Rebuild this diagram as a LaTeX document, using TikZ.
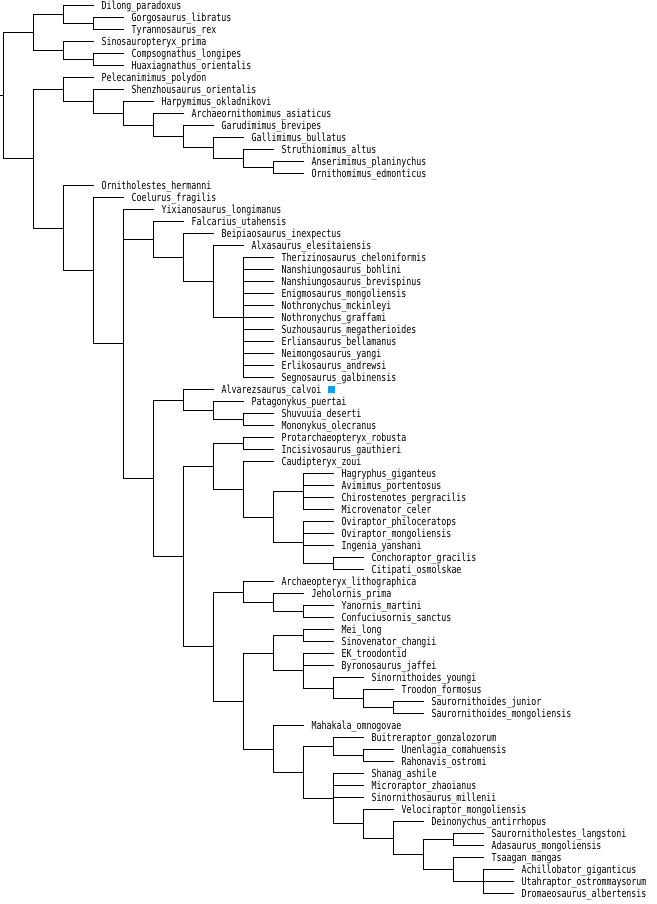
\documentclass[tikz,border=0pt]{standalone}
\usepackage{fontspec}
\usepackage{xcolor}
\usepackage{tikz}
\usetikzlibrary{positioning}
\newfontfamily\treefont[FakeStretch=0.755]{DejaVu Sans Mono}
\definecolor{markblue}{RGB}{16,160,232}

\begin{document}
\begin{tikzpicture}[
    x=1pt, y=-12pt,
    taxon/.style={anchor=west, inner xsep=8pt, inner ysep=0pt, outer sep=0pt, text height=8pt, text depth=0pt, font=\treefont\fontsize{11}{12}\selectfont},
    branch/.style={line width=1pt},
    marker/.style={fill=markblue, minimum size=7pt, inner sep=0pt, outer sep=0pt}
  ]
  \useasboundingbox (0,-0.4583) rectangle (656,74.875);

  % Taxa, one row each
  \node[taxon] (dilong)      at (93.5,0)   {Dilong\_paradoxus};
  \node[taxon] (gorgo)       at (123.5,1)  {Gorgosaurus\_libratus};
  \node[taxon] (tyranno)     at (123.5,2)  {Tyrannosaurus\_rex};
  \node[taxon] (sinosaur)    at (93.5,3)   {Sinosauropteryx\_prima};
  \node[taxon] (compso)      at (123.5,4)  {Compsognathus\_longipes};
  \node[taxon] (huaxia)      at (123.5,5)  {Huaxiagnathus\_orientalis};
  \node[taxon] (pelecan)     at (93.5,6)   {Pelecanimimus\_polydon};
  \node[taxon] (shenzhou)    at (123.5,7)  {Shenzhousaurus\_orientalis};
  \node[taxon] (harpy)       at (153.5,8)  {Harpymimus\_okladnikovi};
  \node[taxon] (archorn)     at (183.5,9)  {Archaeornithomimus\_asiaticus};
  \node[taxon] (garudi)      at (213.5,10) {Garudimimus\_brevipes};
  \node[taxon] (gallimi)     at (243.5,11) {Gallimimus\_bullatus};
  \node[taxon] (struthio)    at (273.5,12) {Struthiomimus\_altus};
  \node[taxon] (anseri)      at (303.5,13) {Anserimimus\_planinychus};
  \node[taxon] (ornmim)      at (303.5,14) {Ornithomimus\_edmonticus};
  \node[taxon] (ornithol)    at (93.5,15)  {Ornitholestes\_hermanni};
  \node[taxon] (coelurus)    at (123.5,16) {Coelurus\_fragilis};
  \node[taxon] (yixian)      at (153.5,17) {Yixianosaurus\_longimanus};
  \node[taxon] (falcarius)   at (183.5,18) {Falcarius\_utahensis};
  \node[taxon] (beipiao)     at (213.5,19) {Beipiaosaurus\_inexpectus};
  \node[taxon] (alxa)        at (243.5,20) {Alxasaurus\_elesitaiensis};
  \node[taxon] (therizino)   at (273.5,21) {Therizinosaurus\_cheloniformis};
  \node[taxon] (nanbohl)     at (273.5,22) {Nanshiungosaurus\_bohlini};
  \node[taxon] (nanbrev)     at (273.5,23) {Nanshiungosaurus\_brevispinus};
  \node[taxon] (enigmo)      at (273.5,24) {Enigmosaurus\_mongoliensis};
  \node[taxon] (nothmck)     at (273.5,25) {Nothronychus\_mckinleyi};
  \node[taxon] (nothgraff)   at (273.5,26) {Nothronychus\_graffami};
  \node[taxon] (suzhou)      at (273.5,27) {Suzhousaurus\_megatherioides};
  \node[taxon] (erlian)      at (273.5,28) {Erliansaurus\_bellamanus};
  \node[taxon] (neimongo)    at (273.5,29) {Neimongosaurus\_yangi};
  \node[taxon] (erliko)      at (273.5,30) {Erlikosaurus\_andrewsi};
  \node[taxon] (segno)       at (273.5,31) {Segnosaurus\_galbinensis};
  \node[taxon] (alvarez)     at (213.5,32) {Alvarezsaurus\_calvoi};
  \node[taxon] (patagon)     at (243.5,33) {Patagonykus\_puertai};
  \node[taxon] (shuvuuia)    at (273.5,34) {Shuvuuia\_deserti};
  \node[taxon] (mononykus)   at (273.5,35) {Mononykus\_olecranus};
  \node[taxon] (protarch)    at (273.5,36) {Protarchaeopteryx\_robusta};
  \node[taxon] (incisivo)    at (273.5,37) {Incisivosaurus\_gauthieri};
  \node[taxon] (caudip)      at (273.5,38) {Caudipteryx\_zoui};
  \node[taxon] (hagryph)     at (333.5,39) {Hagryphus\_giganteus};
  \node[taxon] (avimimus)    at (333.5,40) {Avimimus\_portentosus};
  \node[taxon] (chirost)     at (333.5,41) {Chirostenotes\_pergracilis};
  \node[taxon] (microven)    at (333.5,42) {Microvenator\_celer};
  \node[taxon] (oviphil)     at (333.5,43) {Oviraptor\_philoceratops};
  \node[taxon] (ovimong)     at (333.5,44) {Oviraptor\_mongoliensis};
  \node[taxon] (ingenia)     at (333.5,45) {Ingenia\_yanshani};
  \node[taxon] (conchor)     at (363.5,46) {Conchoraptor\_gracilis};
  \node[taxon] (citipati)    at (363.5,47) {Citipati\_osmolskae};
  \node[taxon] (archaeop)    at (273.5,48) {Archaeopteryx\_lithographica};
  \node[taxon] (jeholor)     at (303.5,49) {Jeholornis\_prima};
  \node[taxon] (yanornis)    at (333.5,50) {Yanornis\_martini};
  \node[taxon] (confuc)      at (333.5,51) {Confuciusornis\_sanctus};
  \node[taxon] (mei)         at (333.5,52) {Mei\_long};
  \node[taxon] (sinoven)     at (333.5,53) {Sinovenator\_changii};
  \node[taxon] (ektroo)      at (333.5,54) {EK\_troodontid};
  \node[taxon] (byrono)      at (333.5,55) {Byronosaurus\_jaffei};
  \node[taxon] (sinornoides) at (363.5,56) {Sinornithoides\_youngi};
  \node[taxon] (troodon)     at (393.5,57) {Troodon\_formosus};
  \node[taxon] (saurjun)     at (423.5,58) {Saurornithoides\_junior};
  \node[taxon] (saurmong)    at (423.5,59) {Saurornithoides\_mongoliensis};
  \node[taxon] (mahakala)    at (303.5,60) {Mahakala\_omnogovae};
  \node[taxon] (buitre)      at (363.5,61) {Buitreraptor\_gonzalozorum};
  \node[taxon] (unenlagia)   at (393.5,62) {Unenlagia\_comahuensis};
  \node[taxon] (rahonavis)   at (393.5,63) {Rahonavis\_ostromi};
  \node[taxon] (shanag)      at (363.5,64) {Shanag\_ashile};
  \node[taxon] (microrap)    at (363.5,65) {Microraptor\_zhaoianus};
  \node[taxon] (sinornsaur)  at (363.5,66) {Sinornithosaurus\_millenii};
  \node[taxon] (velocir)     at (393.5,67) {Velociraptor\_mongoliensis};
  \node[taxon] (deinon)      at (423.5,68) {Deinonychus\_antirrhopus};
  \node[taxon] (saurlest)    at (483.5,69) {Saurornitholestes\_langstoni};
  \node[taxon] (adasaur)     at (483.5,70) {Adasaurus\_mongoliensis};
  \node[taxon] (tsaagan)     at (483.5,71) {Tsaagan\_mangas};
  \node[taxon] (achillo)     at (513.5,72) {Achillobator\_giganticus};
  \node[taxon] (utahrap)     at (513.5,73) {Utahraptor\_ostrommaysorum};
  \node[taxon] (dromaeo)     at (513.5,74) {Dromaeosaurus\_albertensis};

  \node[marker, right=-2pt of alvarez] (alvmark) {};

  % Clades
  \coordinate (tyrannos)  at (93.5,1.5);
  \coordinate (tyrroid)   at (63.5,0.75);
  \coordinate (compsin)   at (93.5,4.5);
  \coordinate (compsid)   at (63.5,3.75);
  \coordinate (upper)     at (33.5,2.25);
  \coordinate (orn8)      at (273.5,13.5);
  \coordinate (orn7)      at (243.5,12.75);
  \coordinate (orn6)      at (213.5,11.875);
  \coordinate (orn5)      at (183.5,10.938);
  \coordinate (orn4)      at (153.5,9.969);
  \coordinate (orn3)      at (123.5,8.984);
  \coordinate (orn2)      at (93.5,7.992);
  \coordinate (orn1)      at (63.5,6.996);
  \coordinate (thzids)    at (243.5,26);
  \coordinate (thz3)      at (213.5,23);
  \coordinate (thz2)      at (183.5,21);
  \coordinate (thz1)      at (153.5,19.5);
  \coordinate (shuvmono)  at (243.5,34.5);
  \coordinate (patnode)   at (213.5,33.75);
  \coordinate (alvnode)   at (183.5,32.875);
  \coordinate (protinc)   at (243.5,36.5);
  \coordinate (caenag)    at (303.5,40.5);
  \coordinate (conchcit)  at (333.5,46.5);
  \coordinate (ovids)     at (303.5,44.75);
  \coordinate (caenovi)   at (273.5,42.625);
  \coordinate (caudnode)  at (243.5,40.313);
  \coordinate (oviroid)   at (213.5,38.406);
  \coordinate (confnode)  at (303.5,50.5);
  \coordinate (jehnode)   at (273.5,49.75);
  \coordinate (avialae)   at (243.5,48.875);
  \coordinate (meinode)   at (303.5,52.5);
  \coordinate (saurnode)  at (393.5,58.5);
  \coordinate (troonode)  at (363.5,57.75);
  \coordinate (sinnode)   at (333.5,56.875);
  \coordinate (eknode)    at (303.5,55.438);
  \coordinate (troodids)  at (273.5,53.969);
  \coordinate (unennode)  at (363.5,62.5);
  \coordinate (buitnode)  at (333.5,61.75);
  \coordinate (saurlnode) at (453.5,69.5);
  \coordinate (dromnode)  at (483.5,73);
  \coordinate (tsanode)   at (453.5,72);
  \coordinate (eudrom)    at (423.5,70.75);
  \coordinate (deinnode)  at (393.5,69.375);
  \coordinate (velnode)   at (363.5,68.188);
  \coordinate (microraps) at (333.5,66.094);
  \coordinate (dromsub)   at (303.5,63.922);
  \coordinate (dromids)   at (273.5,61.961);
  \coordinate (deinonych) at (243.5,57.965);
  \coordinate (paraves)   at (213.5,53.420);
  \coordinate (pennarap)  at (183.5,45.913);
  \coordinate (maniraps)  at (153.5,39.394);
  \coordinate (yixnode)   at (123.5,28.197);
  \coordinate (coelnode)  at (93.5,22.099);
  \coordinate (ornnode)   at (63.5,18.549);
  \coordinate (lower)     at (33.5,12.773);
  \coordinate (root)      at (3.5,7.511);
  \coordinate (stem)      at (0,7.511);

  % Branches
  \draw[branch] (stem) -- (root);
  \draw[branch] (root) |- (upper) (root) |- (lower);
  \draw[branch] (upper) |- (tyrroid) (upper) |- (compsid);
  \draw[branch] (tyrroid) |- (dilong.west) (tyrroid) |- (tyrannos);
  \draw[branch] (tyrannos) |- (gorgo.west) (tyrannos) |- (tyranno.west);
  \draw[branch] (compsid) |- (sinosaur.west) (compsid) |- (compsin);
  \draw[branch] (compsin) |- (compso.west) (compsin) |- (huaxia.west);
  \draw[branch] (lower) |- (orn1) (lower) |- (ornnode);
  \draw[branch] (orn1) |- (pelecan.west) (orn1) |- (orn2);
  \draw[branch] (orn2) |- (shenzhou.west) (orn2) |- (orn3);
  \draw[branch] (orn3) |- (harpy.west) (orn3) |- (orn4);
  \draw[branch] (orn4) |- (archorn.west) (orn4) |- (orn5);
  \draw[branch] (orn5) |- (garudi.west) (orn5) |- (orn6);
  \draw[branch] (orn6) |- (gallimi.west) (orn6) |- (orn7);
  \draw[branch] (orn7) |- (struthio.west) (orn7) |- (orn8);
  \draw[branch] (orn8) |- (anseri.west) (orn8) |- (ornmim.west);
  \draw[branch] (ornnode) |- (ornithol.west) (ornnode) |- (coelnode);
  \draw[branch] (coelnode) |- (coelurus.west) (coelnode) |- (yixnode);
  \draw[branch] (yixnode) |- (yixian.west) (yixnode) |- (thz1) (yixnode) |- (maniraps);
  \draw[branch] (thz1) |- (falcarius.west) (thz1) |- (thz2);
  \draw[branch] (thz2) |- (beipiao.west) (thz2) |- (thz3);
  \draw[branch] (thz3) |- (alxa.west) (thz3) |- (thzids);
  \draw[branch] (thzids) |- (therizino.west) (thzids) |- (nanbohl.west) (thzids) |- (nanbrev.west)
    (thzids) |- (enigmo.west) (thzids) |- (nothmck.west) (thzids) |- (nothgraff.west)
    (thzids) |- (suzhou.west) (thzids) |- (erlian.west) (thzids) |- (neimongo.west)
    (thzids) |- (erliko.west) (thzids) |- (segno.west);
  \draw[branch] (maniraps) |- (alvnode) (maniraps) |- (pennarap);
  \draw[branch] (alvnode) |- (alvarez.west) (alvnode) |- (patnode);
  \draw[branch] (patnode) |- (patagon.west) (patnode) |- (shuvmono);
  \draw[branch] (shuvmono) |- (shuvuuia.west) (shuvmono) |- (mononykus.west);
  \draw[branch] (pennarap) |- (oviroid) (pennarap) |- (paraves);
  \draw[branch] (oviroid) |- (protinc) (oviroid) |- (caudnode);
  \draw[branch] (protinc) |- (protarch.west) (protinc) |- (incisivo.west);
  \draw[branch] (caudnode) |- (caudip.west) (caudnode) |- (caenovi);
  \draw[branch] (caenovi) |- (caenag) (caenovi) |- (ovids);
  \draw[branch] (caenag) |- (hagryph.west) (caenag) |- (avimimus.west)
    (caenag) |- (chirost.west) (caenag) |- (microven.west);
  \draw[branch] (ovids) |- (oviphil.west) (ovids) |- (ovimong.west)
    (ovids) |- (ingenia.west) (ovids) |- (conchcit);
  \draw[branch] (conchcit) |- (conchor.west) (conchcit) |- (citipati.west);
  \draw[branch] (paraves) |- (avialae) (paraves) |- (deinonych);
  \draw[branch] (avialae) |- (archaeop.west) (avialae) |- (jehnode);
  \draw[branch] (jehnode) |- (jeholor.west) (jehnode) |- (confnode);
  \draw[branch] (confnode) |- (yanornis.west) (confnode) |- (confuc.west);
  \draw[branch] (deinonych) |- (troodids) (deinonych) |- (dromids);
  \draw[branch] (troodids) |- (meinode) (troodids) |- (eknode);
  \draw[branch] (meinode) |- (mei.west) (meinode) |- (sinoven.west);
  \draw[branch] (eknode) |- (ektroo.west) (eknode) |- (byrono.west) (eknode) |- (sinnode);
  \draw[branch] (sinnode) |- (sinornoides.west) (sinnode) |- (troonode);
  \draw[branch] (troonode) |- (troodon.west) (troonode) |- (saurnode);
  \draw[branch] (saurnode) |- (saurjun.west) (saurnode) |- (saurmong.west);
  \draw[branch] (dromids) |- (mahakala.west) (dromids) |- (dromsub);
  \draw[branch] (dromsub) |- (buitnode) (dromsub) |- (microraps);
  \draw[branch] (buitnode) |- (buitre.west) (buitnode) |- (unennode);
  \draw[branch] (unennode) |- (unenlagia.west) (unennode) |- (rahonavis.west);
  \draw[branch] (microraps) |- (shanag.west) (microraps) |- (microrap.west)
    (microraps) |- (sinornsaur.west) (microraps) |- (velnode);
  \draw[branch] (velnode) |- (velocir.west) (velnode) |- (deinnode);
  \draw[branch] (deinnode) |- (deinon.west) (deinnode) |- (eudrom);
  \draw[branch] (eudrom) |- (saurlnode) (eudrom) |- (tsanode);
  \draw[branch] (saurlnode) |- (saurlest.west) (saurlnode) |- (adasaur.west);
  \draw[branch] (tsanode) |- (tsaagan.west) (tsanode) |- (dromnode);
  \draw[branch] (dromnode) |- (achillo.west) (dromnode) |- (utahrap.west) (dromnode) |- (dromaeo.west);

\end{tikzpicture}
\end{document}
